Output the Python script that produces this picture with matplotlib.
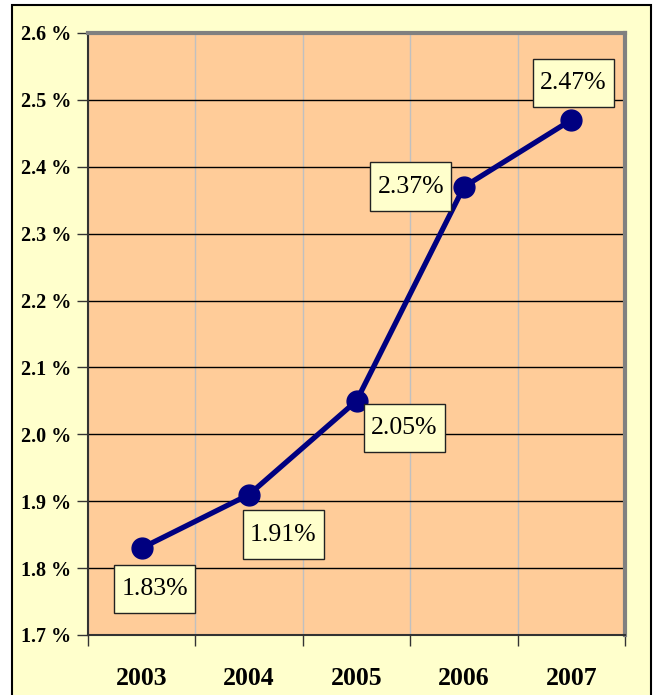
import numpy as np
import matplotlib.pyplot as plt
from matplotlib.patches import Rectangle
from matplotlib.path import Path

# 資料
years = ['2003', '2004', '2005', '2006', '2007']
rates = [1.83, 1.91, 2.05, 2.37, 2.47]
labels = ['1.83%', '1.91%', '2.05%', '2.37%', '2.47%']
y_ticks = [1.7, 1.8, 1.9, 2.0, 2.1, 2.2, 2.3, 2.4, 2.5, 2.6]
# 標籤框相對資料點的位移(像素)
offsets = [(13, -41), (34, -40), (48, -27), (-53, 0), (2, 37)]


# 標籤框：左右留白小、上下留白大
def label_box(x0, y0, width, height, mutation_size):
    px = 0.28 * mutation_size
    py = 0.52 * mutation_size
    x0, y0 = x0 - px, y0 - py
    x1, y1 = x0 + width + 2 * px, y0 + height + 2 * py
    return Path([(x0, y0), (x1, y0), (x1, y1), (x0, y1), (x0, y0)], closed=True)


fig = plt.figure(figsize=(6.57, 6.95), dpi=100, facecolor='white')

# 外框(淡黃底)
fig.patches.append(Rectangle((12 / 657, -0.05), (651 - 12) / 657, 1 - 5 / 695 + 0.05,
                             transform=fig.transFigure, facecolor='#FFFFCC',
                             edgecolor='black', linewidth=1.5, zorder=-10))

ax = fig.add_axes([88 / 657, 1 - 635 / 695, (625 - 88) / 657, (635 - 33) / 695])
ax.set_facecolor('#FFCC99')

x = np.arange(len(years))
ax.plot(x, rates, color='#000080', linewidth=3.8, marker='o', markersize=15,
        zorder=4, clip_on=False)

ax.set_xlim(-0.5, len(years) - 0.5)
ax.set_ylim(1.7, 2.6)

# y 軸
ax.set_yticks(y_ticks)
ax.set_yticklabels(['%.1f %%' % v for v in y_ticks], fontsize=14.5, fontweight='bold',
                   family='Liberation Serif')
ax.tick_params(axis='y', length=8, width=1, pad=4, color='#333333')
ax.yaxis.grid(True, color='black', linewidth=1)

# x 軸：標籤在中間，刻度在分隔線
ax.set_xticks(x)
ax.set_xticklabels(years, fontsize=18.5, fontweight='bold', family='Liberation Serif')
ax.set_xticks(np.arange(-0.5, len(years)), minor=True)
ax.tick_params(axis='x', which='major', length=0, pad=23)
ax.tick_params(axis='x', which='minor', length=8, width=1, color='#333333')
ax.xaxis.grid(True, which='minor', color='#C0C0C0', linewidth=1)
ax.set_axisbelow(True)

for side in ['top', 'right']:
    ax.spines[side].set_color('#808080')
    ax.spines[side].set_linewidth(3)
for side in ['left', 'bottom']:
    ax.spines[side].set_color('#333333')
    ax.spines[side].set_linewidth(1.5)

# 數值標籤
for xi, v, lab, off in zip(x, rates, labels, offsets):
    ax.annotate(lab, (xi, v), xytext=off, textcoords='offset pixels',
                ha='center', va='center', fontsize=18.5, family='Liberation Serif',
                bbox=dict(boxstyle=label_box, facecolor='#FFFFCC',
                          edgecolor='#222222', linewidth=1), zorder=5)

fig.savefig('out.png', dpi=100)
